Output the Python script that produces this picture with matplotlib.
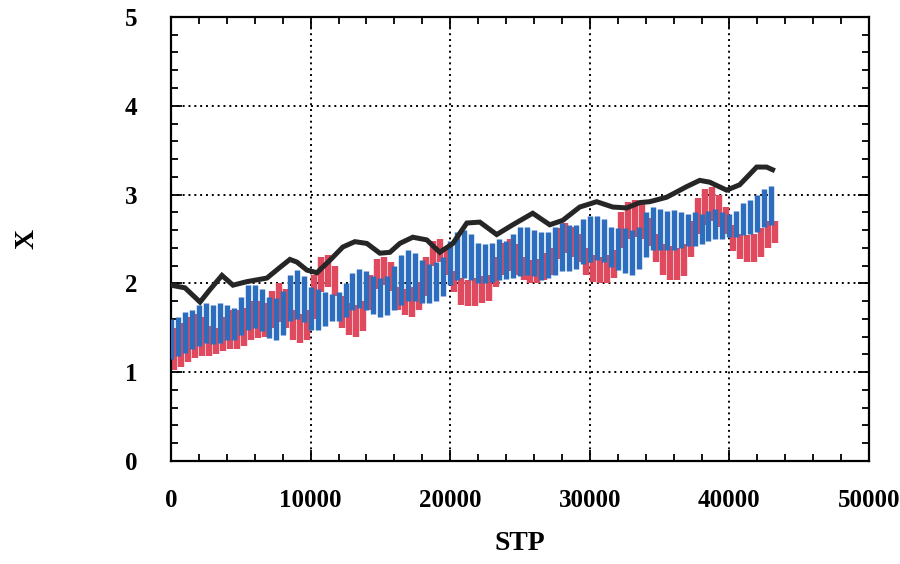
"""Band plot of X against STP: two oscillating series drawn as vertical
range strokes, plus the upper trace as a solid line."""

import matplotlib.pyplot as plt
import numpy as np
from matplotlib.ticker import MultipleLocator

plt.rcParams["font.family"] = ["Liberation Serif", "DejaVu Serif"]
plt.rcParams["font.weight"] = "bold"

# upper trace
TOP_STP = [0, 1000, 2080, 2790, 3650, 4440, 5440, 6870, 7800, 8520, 9020,
           9730, 10450, 11380, 12310, 13170, 14030, 14960, 15680, 16390,
           17320, 18320, 19250, 20190, 21190, 22120, 23330, 24480, 25910,
           27130, 28060, 29280, 30490, 31640, 32640, 33570, 34290, 35500,
           36940, 37870, 38580, 39800, 40730, 41950, 42660, 43090]
TOP_X = [1.98, 1.95, 1.79, 1.93, 2.09, 1.98, 2.02, 2.06, 2.18, 2.27, 2.24,
         2.15, 2.12, 2.26, 2.41, 2.47, 2.45, 2.34, 2.35, 2.45, 2.52, 2.49,
         2.35, 2.45, 2.68, 2.69, 2.55, 2.66, 2.79, 2.66, 2.71, 2.86, 2.92,
         2.86, 2.85, 2.91, 2.92, 2.97, 3.09, 3.16, 3.14, 3.05, 3.11, 3.31,
         3.31, 3.28]

# min / max of each band over 500-step windows; blue windows start at 0,
# red windows are offset by half a window
BAND_STEP = 500
RED_OFFSET = 250

RED_LO = [1.02, 1.06, 1.12, 1.16, 1.18, 1.18, 1.20, 1.24, 1.26, 1.26,
          1.30, 1.36, 1.38, 1.40, 1.50, 1.56, 1.50, 1.36, 1.33, 1.36,
          1.60, 1.90, 1.96, 1.86, 1.50, 1.42, 1.40, 1.46, 1.70, 1.94,
          1.98, 1.92, 1.70, 1.64, 1.62, 1.70, 1.86, 2.20, 2.24, 2.10,
          1.90, 1.76, 1.74, 1.74, 1.78, 1.80, 1.96, 2.10, 2.14, 2.10,
          2.04, 2.00, 2.00, 2.04, 2.10, 2.28, 2.34, 2.30, 2.24, 2.10,
          2.02, 2.00, 2.00, 2.06, 2.40, 2.50, 2.52, 2.50, 2.42, 2.24,
          2.10, 2.04, 2.04, 2.08, 2.30, 2.56, 2.66, 2.70, 2.64, 2.56,
          2.36, 2.28, 2.24, 2.24, 2.30, 2.40, 2.46]
RED_HI = [1.50, 1.55, 1.62, 1.66, 1.62, 1.52, 1.50, 1.62, 1.70, 1.70,
          1.72, 1.80, 1.80, 1.78, 1.92, 2.00, 1.94, 1.70, 1.66, 1.70,
          2.10, 2.30, 2.32, 2.20, 1.86, 1.78, 1.76, 1.80, 2.10, 2.28,
          2.30, 2.24, 1.96, 1.94, 1.96, 2.02, 2.30, 2.48, 2.50, 2.40,
          2.14, 2.06, 2.04, 2.06, 2.08, 2.10, 2.30, 2.46, 2.50, 2.44,
          2.30, 2.26, 2.28, 2.34, 2.40, 2.62, 2.68, 2.64, 2.56, 2.40,
          2.32, 2.30, 2.32, 2.38, 2.80, 2.92, 2.94, 2.90, 2.74, 2.56,
          2.44, 2.42, 2.40, 2.44, 2.70, 2.96, 3.06, 3.08, 3.00, 2.86,
          2.66, 2.56, 2.54, 2.56, 2.62, 2.70, 2.70]

BLUE_LO = [1.15, 1.18, 1.22, 1.26, 1.30, 1.33, 1.32, 1.33, 1.36, 1.36,
           1.42, 1.48, 1.50, 1.46, 1.38, 1.36, 1.42, 1.58, 1.60, 1.56,
           1.48, 1.48, 1.52, 1.58, 1.58, 1.62, 1.70, 1.72, 1.70, 1.66,
           1.62, 1.64, 1.70, 1.76, 1.80, 1.80, 1.78, 1.78, 1.80, 1.86,
           1.98, 2.04, 2.06, 2.04, 2.00, 2.00, 2.02, 2.04, 2.05, 2.06,
           2.08, 2.10, 2.08, 2.04, 2.06, 2.10, 2.14, 2.14, 2.16, 2.22,
           2.24, 2.26, 2.24, 2.18, 2.15, 2.12, 2.10, 2.16, 2.30, 2.38,
           2.38, 2.38, 2.38, 2.40, 2.42, 2.42, 2.44, 2.48, 2.50, 2.50,
           2.52, 2.52, 2.54, 2.56, 2.58, 2.64, 2.66]
BLUE_HI = [1.60, 1.62, 1.68, 1.70, 1.76, 1.78, 1.76, 1.78, 1.76, 1.72,
           1.85, 1.98, 1.98, 1.94, 1.85, 1.84, 1.92, 2.10, 2.15, 2.08,
           1.96, 1.94, 1.90, 1.88, 1.90, 2.00, 2.12, 2.16, 2.14, 2.08,
           2.06, 2.08, 2.20, 2.32, 2.38, 2.34, 2.26, 2.22, 2.24, 2.30,
           2.48, 2.58, 2.60, 2.56, 2.46, 2.44, 2.46, 2.50, 2.48, 2.56,
           2.64, 2.64, 2.60, 2.58, 2.58, 2.64, 2.68, 2.66, 2.66, 2.72,
           2.76, 2.76, 2.72, 2.64, 2.62, 2.62, 2.60, 2.64, 2.80, 2.86,
           2.84, 2.82, 2.83, 2.80, 2.78, 2.80, 2.78, 2.82, 2.84, 2.80,
           2.78, 2.82, 2.90, 2.94, 3.00, 3.06, 3.10]

RED = "#df4a5e"
BLUE = "#2c6dbd"
INK = "#262626"


def main() -> None:
    fig = plt.figure(figsize=(9, 5.64), dpi=100)
    ax = fig.add_axes([0.19, 0.1826, 0.7756, 0.7873])

    blue_stp = np.arange(len(BLUE_LO)) * BAND_STEP
    red_stp = np.arange(len(RED_LO)) * BAND_STEP + RED_OFFSET
    ax.vlines(red_stp, RED_LO, RED_HI, colors=RED, linewidth=4.6, zorder=2)
    ax.vlines(blue_stp, BLUE_LO, BLUE_HI, colors=BLUE, linewidth=3.9, zorder=3)
    ax.plot(TOP_STP, TOP_X, color=INK, linewidth=3.6, zorder=4,
            solid_joinstyle="miter")

    ax.set_xlim(0, 50000)
    ax.set_ylim(0, 5)
    ax.xaxis.set_major_locator(MultipleLocator(10000))
    ax.xaxis.set_minor_locator(MultipleLocator(2000))
    ax.yaxis.set_major_locator(MultipleLocator(1))
    ax.yaxis.set_minor_locator(MultipleLocator(0.2))

    ax.grid(which="major", color="black", linestyle=(0, (1, 2)),
            linewidth=1.4, zorder=1)
    ax.set_axisbelow(True)

    ax.tick_params(which="both", direction="in", top=True, right=True,
                   width=1.3, colors="black")
    ax.tick_params(which="major", length=8, labelsize=18)
    ax.tick_params(which="minor", length=5)
    ax.tick_params(axis="y", which="major", pad=24)
    ax.tick_params(axis="x", which="major", pad=20)
    for spine in ax.spines.values():
        spine.set_linewidth(1.6)

    for lab in ax.get_xticklabels() + ax.get_yticklabels():
        lab.set_fontweight("bold")

    ax.set_xlabel("STP", fontsize=20, fontweight="bold", labelpad=14)
    ax.set_ylabel("X", fontsize=20, fontweight="bold")
    ax.yaxis.set_label_coords(-0.188, 0.5)

    fig.savefig("out.png", dpi=100)
    plt.close(fig)


if __name__ == "__main__":
    main()
